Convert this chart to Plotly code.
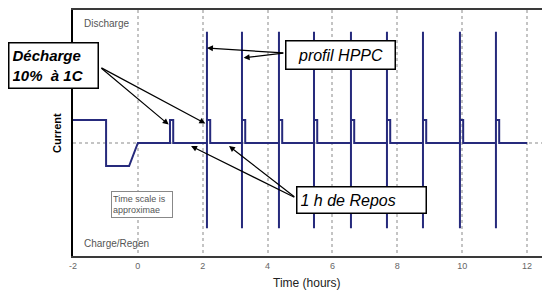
import plotly.graph_objects as go

# ---- data (hours, relative current) ----
step_t = [-2.0, -0.98, -0.98, -0.27, 0.0, 0.99, 0.99, 1.09, 1.09]
step_i = [1, 1, -1, -1, 0, 0, 1, 1, 0]
hppc_t = [2.13, 3.21, 4.35, 5.43, 6.57, 7.68, 8.79, 9.93, 11.04]
spike_hi = 4.83
spike_lo = -3.7
pulse_level = 1
pulse_len = 0.1
end_t = 12.0
x_ticks = [-2, 0, 2, 4, 6, 8, 10, 12]

xs = list(step_t)
ys = list(step_i)
for t in hppc_t:
    xs += [t, t, t, t, t + pulse_len, t + pulse_len]
    ys += [0, spike_hi, spike_lo, pulse_level, pulse_level, 0]
xs.append(end_t)
ys.append(0)

LINE = "#262a7c"
fig = go.Figure()
fig.add_trace(go.Scatter(x=xs, y=ys, mode="lines",
                         line=dict(color=LINE, width=2), hoverinfo="skip"))

W, H = 542, 291
L, R, T, B = 73, 0, 10, 35
pw, ph = W - L - R, H - T - B


def px(xp):
    return (xp - L) / pw


def py(yp):
    return (H - B - yp) / ph


annots = []
# text boxes
annots.append(dict(xref="paper", yref="paper", x=px(53), y=py(65), text="Décharge<br>10%  à 1C",
                   showarrow=False, font=dict(family="Liberation Sans", size=15, color="black",
                                              weight="bold", style="italic"),
                   align="left", width=82, height=38, borderpad=3, bordercolor="black",
                   borderwidth=1.5, bgcolor="white", xanchor="center", yanchor="middle"))
annots.append(dict(xref="paper", yref="paper", x=px(340), y=py(54.5), text="profil HPPC",
                   showarrow=False, font=dict(family="Liberation Sans", size=16, color="black",
                                              style="italic"),
                   align="center", width=102, height=21, borderpad=3, bordercolor="black",
                   borderwidth=1.5, bgcolor="white", xanchor="center", yanchor="middle"))
annots.append(dict(xref="paper", yref="paper", x=px(361), y=py(200), text="1 h de Repos",
                   showarrow=False, font=dict(family="Liberation Sans", size=16, color="black",
                                              style="italic"),
                   align="left", width=122, height=19, borderpad=3, bordercolor="black",
                   borderwidth=1.5, bgcolor="white", xanchor="center", yanchor="middle"))
annots.append(dict(xref="paper", yref="paper", x=px(141.5), y=py(204), text="Time scale is<br>approximae",
                   showarrow=False, font=dict(family="Liberation Sans", size=9, color="#555"),
                   align="left", width=58, height=23, borderpad=1, bordercolor="#888",
                   borderwidth=1, bgcolor="white", xanchor="center", yanchor="middle"))
annots.append(dict(xref="paper", yref="paper", x=px(82), y=py(24), text="Discharge",
                   showarrow=False, font=dict(family="Liberation Sans", size=10, color="#555"),
                   xanchor="left", yanchor="middle"))
annots.append(dict(xref="paper", yref="paper", x=px(82), y=py(243), text="Charge/Regen",
                   showarrow=False, font=dict(family="Liberation Sans", size=10, color="#555"),
                   xanchor="left", yanchor="middle"))
# axis titles
annots.append(dict(xref="paper", yref="paper", x=px(307), y=py(283), text="Time (hours)",
                   showarrow=False, font=dict(family="Liberation Sans", size=12, color="#222"),
                   xanchor="center", yanchor="middle"))
annots.append(dict(xref="paper", yref="paper", x=px(57), y=py(133), text="<b>Current</b>",
                   showarrow=False, textangle=-90,
                   font=dict(family="Liberation Sans", size=11, color="black"),
                   xanchor="center", yanchor="middle"))

# arrows: (tail, head) in data coords
arrow_pairs = [
    ((-1.17, 3.3), (step_t[5] - 0.04, 0.8)),
    ((-1.17, 3.3), (hppc_t[0] - 0.05, 0.85)),
    ((4.53, 3.91), (hppc_t[0], 4.13)),
    ((4.53, 3.91), (hppc_t[1] + 0.05, 3.7)),
    ((4.87, -2.39), (1.64, -0.13)),
    ((4.87, -2.39), (2.81, -0.13)),
]
for (ax, ay), (hx, hy) in arrow_pairs:
    annots.append(dict(xref="x", yref="y", axref="x", ayref="y", x=hx, y=hy, ax=ax, ay=ay,
                       text="", showarrow=True, arrowhead=2, arrowsize=1, arrowwidth=1.2,
                       arrowcolor="black", standoff=0, startstandoff=0))

fig.update_layout(
    width=W, height=H, margin=dict(l=L, r=R, t=T, b=B, autoexpand=False),
    paper_bgcolor="white", plot_bgcolor="white", showlegend=False,
    annotations=annots,
    font=dict(family="Liberation Sans"),
)
fig.update_xaxes(range=[-2, 12.46], tickvals=x_ticks, ticktext=[str(v) for v in x_ticks],
                 showgrid=True, gridcolor="#c4c4c4", gridwidth=1.5, griddash="3px,3px",
                 showline=True, linecolor="#3a3a3a", linewidth=2, mirror=True,
                 zeroline=False, ticks="", tickfont=dict(size=9, color="#666"),
                 automargin=False)
fig.update_yaxes(range=[-4.91, 5.78], tickvals=[0], showticklabels=False,
                 showgrid=True, gridcolor="#c4c4c4", gridwidth=1.5, griddash="3px,3px",
                 showline=True, linecolor="black", linewidth=2, mirror=False,
                 zeroline=False, ticks="", automargin=False)

fig.write_html("out.html", config={"displayModeBar": False},
               post_script="document.body.style.margin='0px';document.body.style.padding='0px';")
